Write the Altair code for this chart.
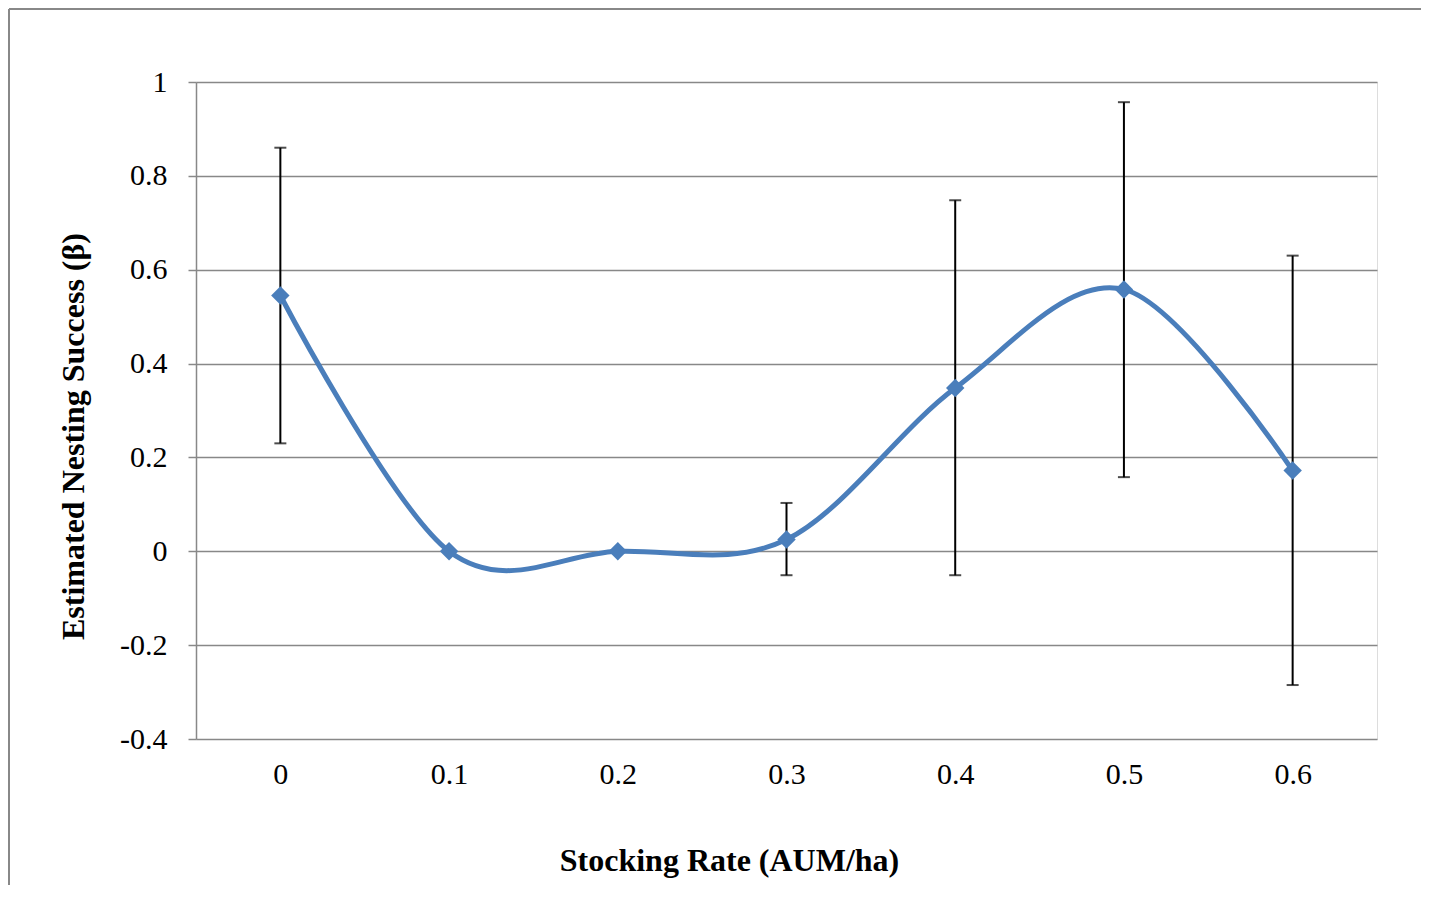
import altair as alt
import pandas as pd

categories = ["0", "0.1", "0.2", "0.3", "0.4", "0.5", "0.6"]
estimates = [0.545, 0.0, 0.0, 0.025, 0.348, 0.558, 0.172]
upper = [0.86, 0.0, 0.0, 0.103, 0.748, 0.957, 0.630]
lower = [0.23, 0.0, 0.0, -0.051, -0.051, 0.158, -0.285]
y_ticks = [-0.4, -0.2, 0, 0.2, 0.4, 0.6, 0.8, 1]

df = pd.DataFrame({"rate": categories, "est": estimates, "hi": upper, "lo": lower})
err_df = df[df["hi"] != df["lo"]]

FONT = "Liberation Serif"
x_enc = alt.X(
    "rate:N",
    sort=categories,
    scale=alt.Scale(type="point", padding=0.5),
    axis=alt.Axis(
        title="Stocking Rate (AUM/ha)",
        titleFont=FONT, titleFontSize=32, titleFontWeight="bold", titleColor="black",
        titleX=533, titleY=121, titleBaseline="middle", titleAnchor="middle",
        labelFont=FONT, labelFontSize=30, labelColor="black", labelPadding=20, labelAngle=0,
        ticks=False, domain=False, grid=False,
    ),
)
y_scale = alt.Scale(domain=[-0.4, 1], nice=False, zero=False)
y_axis = alt.Axis(
    title="Estimated Nesting Success (β)",
    titleFont=FONT, titleFontSize=32, titleFontWeight="bold", titleColor="black",
    titleX=-123, titleY=354, titleBaseline="middle", titleAnchor="middle",
    values=y_ticks,
    labelExpr="'' + datum.value",
    labelFont=FONT, labelFontSize=30, labelColor="black", labelPadding=21,
    tickSize=8, tickColor="#888888", tickWidth=1.5,
    domainColor="#888888", domainWidth=1.5,
    grid=True, gridColor="#888888", gridWidth=1.5,
)

line = alt.Chart(df).mark_line(
    color="#4a7ebb", strokeWidth=5, interpolate="cardinal"
).encode(x=x_enc, y=alt.Y("est:Q", scale=y_scale, axis=y_axis))

bars = alt.Chart(err_df).mark_rule(color="black", strokeWidth=2).encode(
    x=alt.X("rate:N", sort=categories), y=alt.Y("lo:Q"), y2="hi:Q"
)
cap_hi = alt.Chart(err_df).mark_tick(color="black", size=12, thickness=2).encode(
    x=alt.X("rate:N", sort=categories), y=alt.Y("hi:Q")
)
cap_lo = alt.Chart(err_df).mark_tick(color="black", size=12, thickness=2).encode(
    x=alt.X("rate:N", sort=categories), y=alt.Y("lo:Q")
)
points = alt.Chart(df).mark_point(
    shape="diamond", filled=True, color="#4a7ebb", size=340, opacity=1
).encode(x=alt.X("rate:N", sort=categories), y=alt.Y("est:Q"))

frame_top = alt.Chart(df).mark_rule(color="#888888", strokeWidth=2).encode(
    x=alt.value(-187), x2=alt.value(1240), y=alt.value(-73)
)
frame_left = alt.Chart(df).mark_rule(color="#888888", strokeWidth=2).encode(
    x=alt.value(-187), y=alt.value(-73), y2=alt.value(830)
)

chart = alt.layer(frame_top, frame_left, line, bars, cap_hi, cap_lo, points).properties(
    width=1181, height=657,
    padding={"left": 188, "top": 74, "right": 44, "bottom": 146},
    autosize=alt.AutoSizeParams(type="none"),
).configure_view(stroke=None).configure(background="white")

chart.save("out.html", embed_options={"renderer": "svg", "actions": False})
